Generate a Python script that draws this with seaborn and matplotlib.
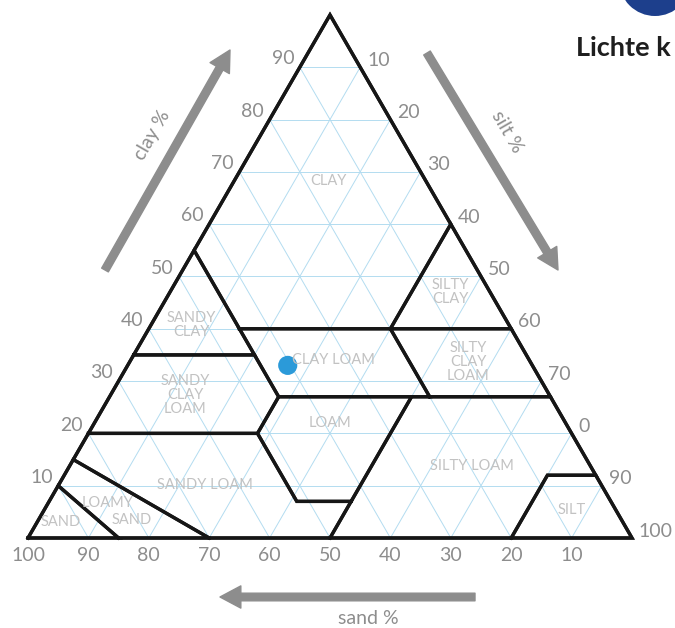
import numpy as np
import pandas as pd
import seaborn as sns
import matplotlib.pyplot as plt
from matplotlib.patches import Circle

# USDA texture classes, corners as (sand, silt, clay) in %
sand_poly = [(100, 0, 0), (85, 15, 0), (90, 0, 10)]
loamy_sand_poly = [(85, 15, 0), (70, 30, 0), (85, 0, 15), (90, 0, 10)]
sandy_loam_poly = [(70, 30, 0), (50, 50, 0), (43, 50, 7), (52, 41, 7),
                   (52, 28, 20), (80, 0, 20), (85, 0, 15)]
loam_poly = [(43, 50, 7), (52, 41, 7), (52, 28, 20), (45, 28, 27), (23, 50, 27)]
silt_loam_poly = [(50, 50, 0), (20, 80, 0), (8, 80, 12), (0, 88, 12),
                  (0, 73, 27), (23, 50, 27), (43, 50, 7)]
silt_poly = [(20, 80, 0), (0, 100, 0), (0, 88, 12), (8, 80, 12)]
sandy_clay_loam_poly = [(80, 0, 20), (52, 28, 20), (45, 28, 27), (45, 20, 35), (65, 0, 35)]
clay_loam_poly = [(45, 28, 27), (20, 53, 27), (20, 40, 40), (45, 15, 40)]
silty_clay_loam_poly = [(20, 53, 27), (0, 73, 27), (0, 60, 40), (20, 40, 40)]
sandy_clay_poly = [(65, 0, 35), (45, 20, 35), (45, 0, 55)]
silty_clay_poly = [(20, 40, 40), (0, 60, 40), (0, 40, 60)]
clay_poly = [(45, 15, 40), (20, 40, 40), (0, 40, 60), (0, 0, 100), (45, 0, 55)]
outline_poly = [(100, 0, 0), (0, 100, 0), (0, 0, 100)]

class_labels = ["CLAY", "SILTY\nCLAY", "SANDY\nCLAY", "CLAY LOAM", "SILTY\nCLAY\nLOAM",
                "SANDY\nCLAY\nLOAM", "LOAM", "SILTY LOAM", "SANDY LOAM", "LOAMY",
                "SAND", "SAND", "SILT"]

grid_steps = [10, 20, 30, 40, 50, 60, 70, 80, 90]
clay_ticks = [10, 20, 30, 40, 50, 60, 70, 80, 90]
clay_tick_labels = ["10", "20", "30", "40", "50", "60", "70", "80", "90"]
silt_ticks = [10, 20, 30, 40, 50, 60, 70, 80, 90, 100]
silt_tick_labels = ["10", "20", "30", "40", "50", "60", "70", "0", "90", "100"]
sand_ticks = [100, 90, 80, 70, 60, 50, 40, 30, 20, 10]
sand_tick_labels = ["100", "90", "80", "70", "60", "50", "40", "30", "20", "10"]

# the sample
sample_sand = [40.5]
sample_silt = [26.5]
sample_clay = [33]

# layout, figure pixels
W_PX, H_PX = 675, 628
label_pos = [(328, 181), (450, 292), (191, 325), (333, 360), (468, 362),
             (185, 395), (330, 423), (472, 466), (205, 485), (108, 503),
             (132, 520), (61, 522), (572, 510)]

GRAY = "#8d8d8d"
LIGHT = "#c2c2c2"
GRID = "#b3dcf0"


def tern(sand, silt, clay):
    """(sand, silt, clay) -> x, y in the plane, sand 100 at left, silt 100 at right"""
    silt = np.asarray(silt, dtype=float)
    clay = np.asarray(clay, dtype=float)
    return silt + clay / 2.0, clay * np.sqrt(3) / 2.0


def fig_xy(px, py):
    return px / W_PX, 1 - py / H_PX


sns.set_theme(style="white")
plt.rcParams["font.family"] = ["Lato", "DejaVu Sans"]

fig = plt.figure(figsize=(6.75, 6.28), dpi=100)
ax = fig.add_axes([0, 0, 1, 1])

# build grid lines
rows = []
for v in grid_steps:
    for tag, a, b in [("clay", (100 - v, 0, v), (0, 100 - v, v)),
                      ("sand", (v, 100 - v, 0), (v, 0, 100 - v)),
                      ("silt", (100 - v, v, 0), (0, v, 100 - v))]:
        for p in (a, b):
            x, y = tern(*p)
            rows.append({"line": f"{tag}{v}", "x": float(x), "y": float(y)})
grid_df = pd.DataFrame(rows)
sns.lineplot(data=grid_df, x="x", y="y", units="line", estimator=None, sort=False,
             color=GRID, lw=0.7, legend=False, ax=ax)

# class boundaries
polys = [sand_poly, loamy_sand_poly, sandy_loam_poly, loam_poly, silt_loam_poly,
         silt_poly, sandy_clay_loam_poly, clay_loam_poly, silty_clay_loam_poly,
         sandy_clay_poly, silty_clay_poly, clay_poly, outline_poly]
rows = []
for k, poly in enumerate(polys):
    pts = list(poly) + [poly[0]]
    for order, p in enumerate(pts):
        x, y = tern(*p)
        rows.append({"poly": k, "order": order, "x": float(x), "y": float(y)})
bound_df = pd.DataFrame(rows)
sns.lineplot(data=bound_df, x="x", y="y", units="poly", estimator=None, sort=False,
             color="#161616", lw=2.4, legend=False, ax=ax,
             solid_joinstyle="miter", solid_capstyle="projecting")

# sample point
sx, sy = tern(sample_sand, sample_silt, sample_clay)
sns.scatterplot(x=sx, y=sy, s=190, color="#2b9ad9", edgecolor="none", zorder=5, ax=ax)

# axis tick labels
for v, lab in zip(clay_ticks, clay_tick_labels):
    x, y = tern(100 - v, 0, v)
    ax.annotate(lab, (x, y), xytext=(-4, 6), textcoords="offset points",
                ha="right", va="center", fontsize=14, color=GRAY)
for v, lab in zip(silt_ticks, silt_tick_labels):
    x, y = tern(0, v, 100 - v)
    ax.annotate(lab, (x, y), xytext=(5, 5), textcoords="offset points",
                ha="left", va="center", fontsize=14, color=GRAY)
for v, lab in zip(sand_ticks, sand_tick_labels):
    x, y = tern(v, 100 - v, 0)
    ax.annotate(lab, (x, y), xytext=(0, -12.5), textcoords="offset points",
                ha="center", va="center", fontsize=14, color=GRAY)

# class names
for lab, (px, py) in zip(class_labels, label_pos):
    fx, fy = fig_xy(px, py)
    fig.text(fx, fy, lab, ha="center", va="center", fontsize=10.5, color=LIGHT,
             linespacing=1.0)

# direction arrows
arrow_kw = dict(width=5.5, headwidth=16, headlength=15, color=GRAY, shrink=0)
for tail, tip in [((105, 270), (230, 50)), ((427, 53), (558, 270)), ((475, 597), (220, 597))]:
    ax.annotate("", xy=fig_xy(*tip), xytext=fig_xy(*tail), xycoords="figure fraction",
                textcoords="figure fraction", arrowprops=arrow_kw)
fig.text(*fig_xy(152, 135), "clay %", rotation=60, ha="center", va="center",
         fontsize=14, color=GRAY, rotation_mode="anchor")
fig.text(*fig_xy(507, 132), "silt %", rotation=-60, ha="center", va="center",
         fontsize=14, color=GRAY, rotation_mode="anchor")
fig.text(*fig_xy(368, 619), "sand %", ha="center", va="center", fontsize=14, color=GRAY)

# bits of the page around the chart
fig.patches.append(Circle((655, H_PX + 20), 36, transform=None, facecolor="#1d3f8c",
                          edgecolor="none"))
fig.text(*fig_xy(576, 48), "Lichte k", ha="left", va="center", fontsize=19.5,
         fontweight="bold", color="#1e1e1e")

# put the triangle where it sits in the picture: 28..632 px wide, base at 538 px
scale = 6.04
ax.set_xlim(-28 / scale, (W_PX - 28) / scale)
ax.set_ylim(-(H_PX - 538) / scale, 538 / scale)
ax.set_axis_off()

fig.savefig("out.png", dpi=100)
